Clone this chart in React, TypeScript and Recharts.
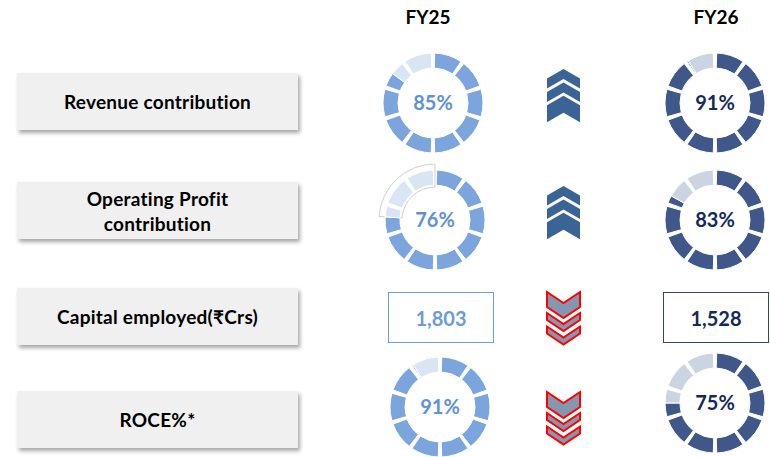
import { Cell, Label, Pie, PieChart } from "recharts";

const FONT = "Lato, 'DejaVu Sans', sans-serif";

// data
const METRICS = [
  "Revenue contribution",
  "Operating Profit contribution",
  "Capital employed(₹Crs)",
  "ROCE%*",
];
const YEARS = ["FY25", "FY26"];
const FY25_VALUES = [85, 76, 1803, 91];
const FY26_VALUES = [91, 83, 1528, 75];
const IS_PERCENT = [true, true, false, true];

// look
const COLORS = [
  { on: "#7CA5DE", off: "#DAE5F4", text: "#5E91D7", box: "#6C9CDB" },
  { on: "#3F5889", off: "#CDD4E1", text: "#14295C", box: "#2F4672" },
];
const UP = "#3B6496";
const DOWN_FILL = "#8497B0";
const DOWN_LINE = "#FF0000";

const ROW_BOX_TOP = [73, 182, 288, 391];
const COL_X = [435, 715];
const ROW_Y = [
  [103, 103],
  [220, 220],
  [317, 317],
  [407, 403],
];
const SEGMENTS = 10;
const GAP = 4;

function slices(value: number) {
  const filled = (value / 100) * 360;
  const step = 360 / SEGMENTS;
  const out: { v: number; kind: string }[] = [];
  for (let i = 0; i < SEGMENTS; i++) {
    const start = i * step + GAP / 2;
    const len = step - GAP;
    const on = Math.min(Math.max(filled - start, 0), len);
    out.push({ v: GAP / 2, kind: "gap" });
    out.push({ v: on, kind: "on" });
    out.push({ v: len - on, kind: "off" });
    out.push({ v: GAP / 2, kind: "gap" });
  }
  return out.filter((d) => d.v > 0);
}

function Donut({ value, col, x, y, highlight }: { value: number; col: number; x: number; y: number; highlight?: boolean }) {
  const c = COLORS[col];
  const data = slices(value);
  const frame = [
    { v: value, kind: "on" },
    { v: 100 - value, kind: "off" },
  ];
  return (
    <div style={{ position: "absolute", left: x - 65, top: y - 65 }}>
      <PieChart width={130} height={130}>
        {highlight && (
          <Pie
            data={frame}
            dataKey="v"
            cx="50%"
            cy="50%"
            innerRadius={33}
            outerRadius={56}
            startAngle={90}
            endAngle={-270}
            isAnimationActive={false}
          >
            {frame.map((d, i) => (
              <Cell
                key={i}
                fill={d.kind === "off" ? "#fff" : "none"}
                stroke={d.kind === "off" ? "#cfcfcf" : "none"}
                strokeWidth={1}
              />
            ))}
          </Pie>
        )}
        <Pie
          data={data}
          dataKey="v"
          cx="50%"
          cy="50%"
          innerRadius={35}
          outerRadius={50}
          startAngle={90}
          endAngle={-270}
          isAnimationActive={false}
        >
          {data.map((d, i) => (
            <Cell
              key={i}
              fill={d.kind === "gap" ? "none" : d.kind === "on" ? c.on : c.off}
              stroke={d.kind === "gap" ? "none" : "#fff"}
              strokeWidth={1}
            />
          ))}
          <Label
            value={`${value}%`}
            position="center"
            fill={c.text}
            fontSize={20}
            fontWeight={700}
            fontFamily={FONT}
          />
        </Pie>
      </PieChart>
    </div>
  );
}

function Chevrons({ up, top }: { up: boolean; top: number }) {
  const w = 33;
  const hw = w / 2;
  const drop = up ? 9.5 : 11;
  const parts = up
    ? [
        [0, 10],
        [13.4, 10],
        [26.7, 17],
      ]
    : [
        [0, 15],
        [21, 7],
        [34.5, 7],
      ];
  return (
    <svg
      width={w + 4}
      height={60}
      style={{ position: "absolute", left: 545, top: top - 2, overflow: "visible" }}
    >
      <g transform="translate(2,2)">
        {parts.map(([a, t], i) => {
          const pts = up
            ? [[0, a + drop], [hw, a], [w, a + drop], [w, a + drop + t], [hw, a + t], [0, a + drop + t]]
            : [[0, a], [hw, a + drop], [w, a], [w, a + t], [hw, a + drop + t], [0, a + t]];
          return (
            <polygon
              key={i}
              points={pts.map((p) => p.join(",")).join(" ")}
              fill={up ? UP : DOWN_FILL}
              stroke={up ? "none" : DOWN_LINE}
              strokeWidth={2}
            />
          );
        })}
      </g>
    </svg>
  );
}

export default function App() {
  const values = [FY25_VALUES, FY26_VALUES];
  return (
    <div
      style={{
        position: "absolute",
        left: 0,
        top: 0,
        width: 770,
        height: 457,
        background: "#fff",
        fontFamily: FONT,
        overflow: "hidden",
      }}
    >
      {YEARS.map((yr, j) => (
        <div
          key={yr}
          style={{
            position: "absolute",
            left: (j === 0 ? 428 : 716) - 40,
            width: 80,
            top: 5,
            textAlign: "center",
            fontSize: 19,
            fontWeight: 700,
            color: "#000",
          }}
        >
          {yr}
        </div>
      ))}

      {METRICS.map((m, i) => (
        <div
          key={m}
          style={{
            position: "absolute",
            left: 17,
            top: ROW_BOX_TOP[i],
            width: 281,
            height: 57,
            background: "#F0F0F0",
            boxShadow: "2px 3px 4px rgba(0,0,0,0.35)",
            display: "flex",
            alignItems: "center",
            justifyContent: "center",
          }}
        >
          <div
            style={{
              maxWidth: 228,
              textAlign: "center",
              fontSize: 19,
              letterSpacing: 0.25,
              fontWeight: 700,
              lineHeight: "25px",
              color: "#000",
            }}
          >
            {m}
          </div>
        </div>
      ))}

      {METRICS.map((m, i) => {
        const a = FY25_VALUES[i];
        const b = FY26_VALUES[i];
        return (
          <div key={m + "-v"}>
            {YEARS.map((yr, j) => {
              const v = values[j][i];
              if (IS_PERCENT[i]) {
                return (
                  <Donut
                    key={yr}
                    value={v}
                    col={j}
                    x={COL_X[j] + (j === 0 && i === 3 ? 5 : j === 0 && i === 0 ? -2 : 0)}
                    y={ROW_Y[i][j]}
                    highlight={i === 1 && j === 0}
                  />
                );
              }
              return (
                <div
                  key={yr}
                  style={{
                    position: "absolute",
                    left: j === 0 ? 388 : 663,
                    top: 292,
                    width: 106,
                    height: 51,
                    boxSizing: "border-box",
                    border: `1.5px solid ${COLORS[j].box}`,
                    display: "flex",
                    alignItems: "center",
                    justifyContent: "center",
                    fontSize: 20,
                    fontWeight: 700,
                    color: j === 0 ? COLORS[0].box : COLORS[1].text,
                  }}
                >
                  {v.toLocaleString("en-IN")}
                </div>
              );
            })}
            <Chevrons up={b > a} top={[69, 186, 292, 392][i]} />
          </div>
        );
      })}
    </div>
  );
}
